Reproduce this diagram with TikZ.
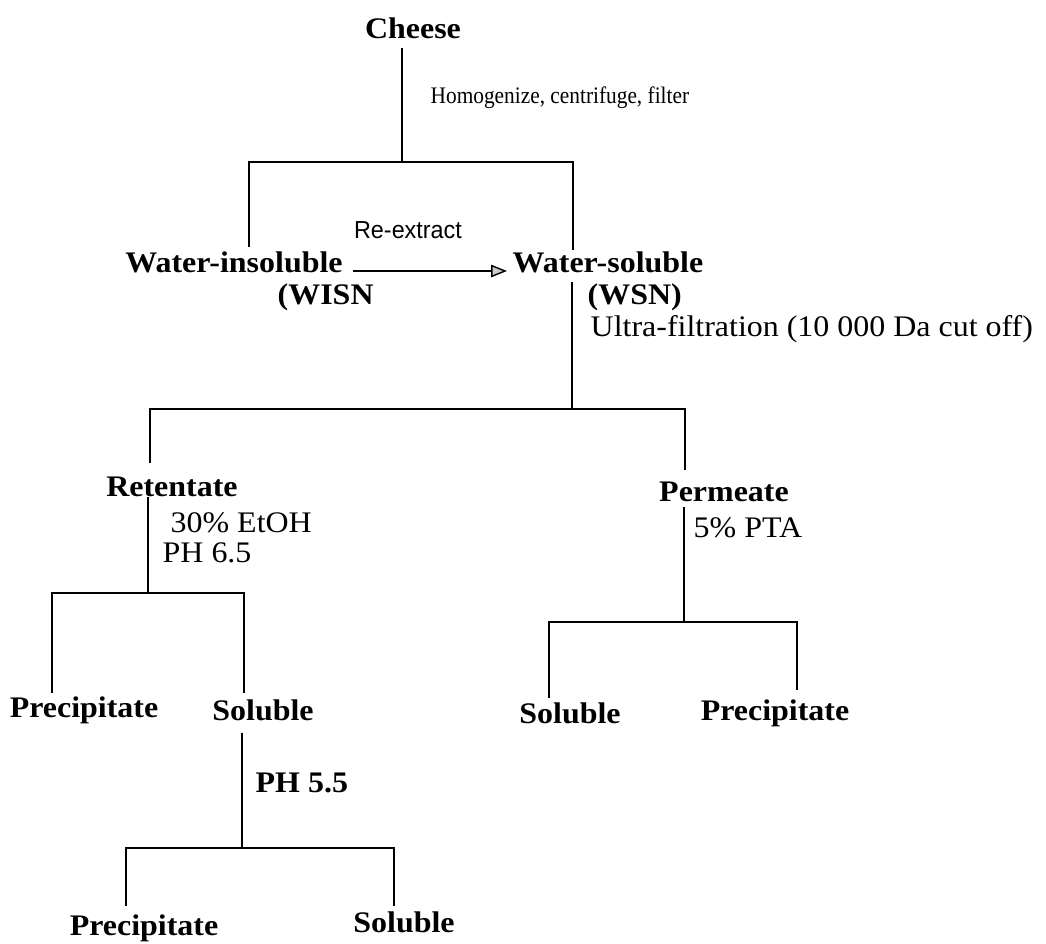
\documentclass[tikz,border=0pt]{standalone}
\usepackage{fontspec}
\setmainfont{Liberation Serif}[FakeStretch=1.07]
\newfontfamily\narrowfont{Liberation Serif}[FakeStretch=0.9]
\newfontfamily\rxfont{Liberation Sans}[FakeStretch=0.95]
\usetikzlibrary{arrows.meta}

\begin{document}
\begin{tikzpicture}[x=0.02cm, y=-0.02cm, line width=0.8pt,
    prod/.style={font=\fontsize{17}{20}\selectfont\bfseries, inner sep=0pt},
    cond/.style={font=\fontsize{17}{20}\selectfont, anchor=west, inner sep=0pt}]
    \useasboundingbox (0,0) rectangle (1046,944);

    % top level
    \node[prod] (cheese) at (413,28) {Cheese};
    \node[cond, font=\narrowfont\fontsize{13.5}{15}\selectfont] (homog) at (430,98) {Homogenize, centrifuge, filter};
    \coordinate (t0) at (402,48);
    \coordinate (t1) at (402,162);
    \coordinate (tl) at (249,247);
    \coordinate (tr) at (573,250);
    \draw (t0) -- (t1);
    \draw (tl) |- (t1) -| (tr);

    \node[prod] (wisn) at (234,262) {Water-insoluble};
    \node[prod, anchor=west] (wisnb) at (277,297) {(WISN};
    \node[prod] (wsn) at (608,262) {Water-soluble};
    \node[prod, anchor=west] (wsnb) at (587,297) {(WSN)};
    \node[font=\rxfont\fontsize{14}{16}\selectfont, inner sep=0pt] (reex) at (408,230) {Re-extract};
    \coordinate (a0) at (353,271);
    \coordinate (a1) at (507,271);
    \draw[-{Triangle[open, fill=gray!40, length=9pt, width=7pt]}] (a0) -- (a1);

    % ultra-filtration
    \node[cond] (uf) at (590,329) {Ultra-filtration (10 000 Da cut off)};
    \coordinate (u0) at (572,282);
    \coordinate (u1) at (572,409);
    \coordinate (ul) at (150,463);
    \coordinate (ur) at (685,470);
    \draw (u0) -- (u1);
    \draw (ul) |- (u1) -| (ur);

    % retentate
    \node[prod] (ret) at (172,487) {Retentate};
    \node[cond] (etoh) at (170,523) {30\% EtOH};
    \node[cond] (ph65) at (162,553) {PH 6.5};
    \coordinate (r0) at (148,497);
    \coordinate (r1) at (148,593);
    \coordinate (rl) at (52,693);
    \coordinate (rr) at (244,693);
    \draw (r0) -- (r1);
    \draw (rl) |- (r1) -| (rr);
    \node[prod] (rprec) at (84,710) {Precipitate};
    \node[prod] (rsol) at (263,710) {Soluble};

    % pH 5.5
    \node[prod, anchor=west] (ph55) at (255,783) {PH 5.5};
    \coordinate (s0) at (242,733);
    \coordinate (s1) at (242,848);
    \coordinate (sl) at (126,906);
    \coordinate (sr) at (394,906);
    \draw (s0) -- (s1);
    \draw (sl) |- (s1) -| (sr);
    \node[prod] (sprec) at (144,928) {Precipitate};
    \node[prod] (ssol) at (404,922) {Soluble};

    % permeate
    \node[prod] (perm) at (724,492) {Permeate};
    \node[cond] (pta) at (693,528) {5\% PTA};
    \coordinate (p0) at (684,507);
    \coordinate (p1) at (684,622);
    \coordinate (pl) at (549,698);
    \coordinate (pr) at (797,690);
    \draw (p0) -- (p1);
    \draw (pl) |- (p1) -| (pr);
    \node[prod] (psol) at (570,713) {Soluble};
    \node[prod] (pprec) at (775,713) {Precipitate};
\end{tikzpicture}
\end{document}
